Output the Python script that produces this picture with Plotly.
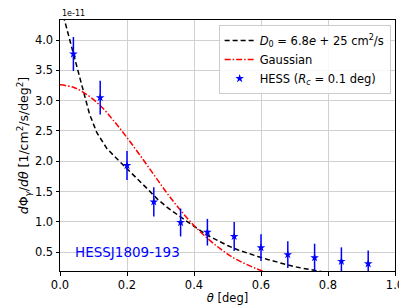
import plotly.graph_objects as go

# Data (flux in units of 1e-11 1/cm^2/s/deg^2)
hess_theta = [0.04, 0.12, 0.20, 0.28, 0.36, 0.44, 0.52, 0.60, 0.68, 0.76, 0.84, 0.92]
hess_flux = [3.77, 3.05, 1.93, 1.33, 0.99, 0.83, 0.76, 0.575, 0.46, 0.41, 0.35, 0.31]
hess_err = [0.28, 0.28, 0.24, 0.24, 0.23, 0.22, 0.24, 0.22, 0.22, 0.23, 0.23, 0.22]

diff_theta = [0.01, 0.088, 0.11, 0.14, 0.17, 0.20, 0.23, 0.26, 0.29, 0.32, 0.35, 0.38,
              0.41, 0.44, 0.47, 0.50, 0.53, 0.56, 0.59, 0.62, 0.65, 0.68, 0.71, 0.74,
              0.77, 0.80]
diff_flux = [4.40, 2.78, 2.47, 2.21, 2.04, 1.88, 1.71, 1.55, 1.38, 1.24, 1.12, 1.00,
             0.89, 0.78, 0.69, 0.61, 0.54, 0.48, 0.43, 0.38, 0.33, 0.29, 0.25, 0.22,
             0.19, 0.16]

gauss_theta = [0.0, 0.04, 0.08, 0.12, 0.16, 0.20, 0.24, 0.28, 0.32, 0.36, 0.40, 0.44,
               0.48, 0.52, 0.56, 0.60, 0.64]
gauss_flux = [3.26, 3.22, 3.10, 2.92, 2.67, 2.39, 2.09, 1.78, 1.47, 1.19, 0.94, 0.73,
              0.55, 0.40, 0.29, 0.20, 0.14]

x_ticks = [0.0, 0.2, 0.4, 0.6, 0.8, 1.0]
y_ticks = [0.5, 1.0, 1.5, 2.0, 2.5, 3.0, 3.5, 4.0]

FONT = "DejaVu Sans"

fig = go.Figure()
fig.add_trace(go.Scatter(
    x=diff_theta, y=diff_flux, mode="lines",
    line=dict(color="black", width=1.5, dash="5px,3px"),
    name="<i>D</i><sub>0</sub> = 6.8<i>e</i> + 25 cm<sup>2</sup>/s",
))
fig.add_trace(go.Scatter(
    x=gauss_theta, y=gauss_flux, mode="lines", line_shape="spline",
    line=dict(color="red", width=1.5, dash="6px,2px,1.5px,2px"),
    name="Gaussian",
))
fig.add_trace(go.Scatter(
    x=hess_theta, y=hess_flux, mode="markers",
    marker=dict(symbol="star", size=6.5, color="blue", line=dict(width=0)),
    error_y=dict(type="data", array=hess_err, visible=True, color="blue",
                 thickness=1.5, width=0),
    name="HESS (<i>R<sub>c</sub></i> = 0.1 deg)",
))

axis_common = dict(
    showline=True, mirror=True, linecolor="black", linewidth=1,
    showgrid=True, gridcolor="#d0d0d0", gridwidth=1,
    ticks="outside", ticklen=3.5, tickwidth=1, tickcolor="black",
    tickfont=dict(family=FONT, size=11.5, color="black"),
    zeroline=False,
)

fig.update_xaxes(range=[0, 1], tickvals=x_ticks, tickformat=".1f",
                 title=dict(text="<i>θ</i> [deg]", font=dict(family=FONT, size=11.5, color="black"),
                            standoff=2),
                 **axis_common)
fig.update_yaxes(range=[0.19, 4.33], tickvals=y_ticks, tickformat=".1f",
                 title=dict(text="<i>d</i>Φ<sub><i>γ</i></sub>/<i>dθ</i> [1/cm<sup>2</sup>/s/deg<sup>2</sup>]",
                            font=dict(family=FONT, size=12.5, color="black"), standoff=3),
                 **axis_common)

fig.add_annotation(x=0, y=1, xref="paper", yref="paper", xanchor="left", yanchor="bottom",
                   text="1e-11", showarrow=False, font=dict(family=FONT, size=8, color="black"),
                   yshift=0)
fig.add_annotation(x=0.2, y=0.5, xref="x", yref="y", text="HESSJ1809-193", showarrow=False,
                   font=dict(family=FONT, size=13.5, color="blue"))

fig.update_layout(
    width=407, height=305,
    margin=dict(l=52, r=15, t=11, b=41),
    plot_bgcolor="white", paper_bgcolor="white",
    font=dict(family=FONT, color="black"),
    showlegend=True,
    legend=dict(x=0.987, y=0.98, xanchor="right", yanchor="top",
                bgcolor="rgba(255,255,255,0.85)", bordercolor="#cccccc", borderwidth=1,
                font=dict(family=FONT, size=11.5, color="black"),
                tracegroupgap=0, itemwidth=30),
)

fig.write_html("out.html")
